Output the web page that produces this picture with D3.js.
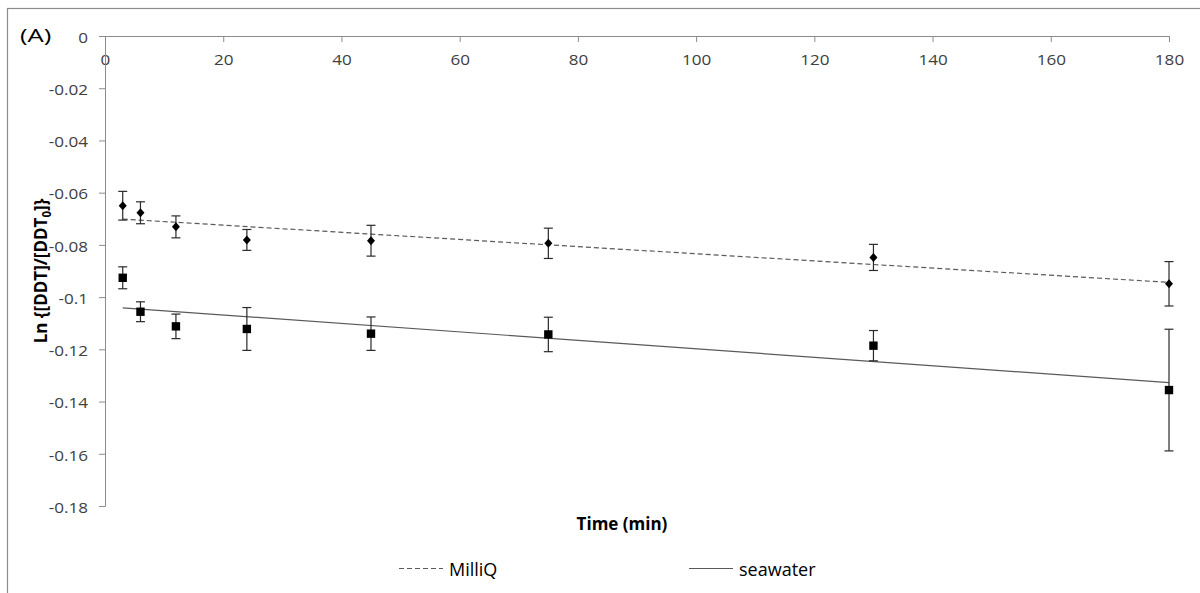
<!DOCTYPE html>
<html>
<head>
<meta charset="utf-8">
<script src="https://cdn.jsdelivr.net/npm/d3@7"></script>
<style>
  html, body { margin: 0; padding: 0; background: #fff; }
  svg { display: block; font-family: "Open Sans", "Lato", sans-serif; }
</style>
</head>
<body>
<svg id="chart" width="1200" height="593"></svg>
<script>
// ---- data ----
const times = [3, 6, 12, 24, 45, 75, 130, 180];
const milliqValues = [-0.0650, -0.0677, -0.0731, -0.0781, -0.0784, -0.0794, -0.0848, -0.0949];
const milliqErrors = [0.0055, 0.0042, 0.0042, 0.0040, 0.0059, 0.0058, 0.0050, 0.0085];
const seawaterValues = [-0.0926, -0.1056, -0.1112, -0.1122, -0.1140, -0.1143, -0.1186, -0.1356];
const seawaterErrors = [0.0042, 0.0038, 0.0047, 0.0082, 0.0064, 0.0066, 0.0058, 0.0233];
// linear trend lines: [slope, intercept], drawn over the measured time range
const milliqTrend = [-0.000137, -0.0697];
const seawaterTrend = [-0.000162, -0.1036];
const xTicks = [0, 20, 40, 60, 80, 100, 120, 140, 160, 180];
const yTicks = [0, -0.02, -0.04, -0.06, -0.08, -0.1, -0.12, -0.14, -0.16, -0.18];
const seriesNames = ["MilliQ", "seawater"];

(function () {
// ---- layout ----
const svg = d3.select("#chart");
const pL = 105, pR = 1169, pT = 36, pB = 506;
const x = d3.scaleLinear().domain([0, 180]).range([pL, pR]);
const y = d3.scaleLinear().domain([0, -0.18]).range([pT, pB]);
const axisColor = "#8c8c8c";
const textColor = "#404040";

// horizontally widen text around its own anchor x
function stretch(sel, sx) {
  sel.each(function () {
    const t = d3.select(this);
    const x0 = +(t.attr("x") || 0);
    t.attr("x", x0 / sx).attr("transform", `scale(${sx},1)`);
  });
}

// outer chart border (cut off at right and bottom as in the reference)
svg.append("rect")
  .attr("x", 7.5).attr("y", 8.5).attr("width", 1200).attr("height", 600)
  .attr("fill", "none").attr("stroke", axisColor).attr("stroke-width", 1.2);

const lab = svg.append("text").attr("x", 20).attr("y", 42)
  .attr("font-size", 19).attr("fill", "#000").text("(A)");
stretch(lab, 1.35);

// x axis at top (y = 0), ticks pointing down, labels below
const xAxis = d3.axisBottom(x).tickValues(xTicks).tickSize(6).tickPadding(13)
  .tickFormat(d3.format("d"));
const gx = svg.append("g").attr("transform", `translate(0,${y(0)})`).call(xAxis);
gx.select(".domain").attr("stroke", axisColor);
gx.selectAll(".tick line").attr("stroke", axisColor);
gx.selectAll(".tick text").attr("font-size", 14).attr("fill", textColor)
  .attr("font-family", "'Open Sans', sans-serif");
stretch(gx.selectAll(".tick text"), 1.22);

// y axis
const yAxis = d3.axisLeft(y).tickValues(yTicks).tickSize(6).tickPadding(11)
  .tickSizeOuter(6)
  .tickFormat(d => d === 0 ? "0" : String(+d.toFixed(2)));
const gy = svg.append("g").attr("transform", `translate(${pL},0)`).call(yAxis);
gy.select(".domain").attr("stroke", axisColor);
gy.selectAll(".tick line").attr("stroke", axisColor);
gy.selectAll(".tick text").attr("font-size", 14).attr("fill", textColor)
  .attr("font-family", "'Open Sans', sans-serif").attr("dy", "0.45em");
stretch(gy.selectAll(".tick text"), 1.22);

// axis titles
svg.append("text").attr("x", 622).attr("y", 530)
  .attr("text-anchor", "middle").attr("font-size", 17).attr("font-weight", "bold")
  .attr("fill", "#000").text("Time (min)");

const yl = svg.append("text")
  .attr("transform", `translate(47,271) rotate(-90)`)
  .attr("text-anchor", "middle").attr("font-size", 17).attr("font-weight", "bold")
  .attr("fill", "#000");
yl.append("tspan").text("Ln {[DDT]/[DDT");
yl.append("tspan").attr("font-size", 11.5).attr("dy", 4).text("0");
yl.append("tspan").attr("dy", -4).text("]}");

// trend lines
const tMin = d3.min(times), tMax = d3.max(times);
function trend(coef, dash) {
  svg.append("line")
    .attr("x1", x(tMin)).attr("y1", y(coef[0] * tMin + coef[1]))
    .attr("x2", x(tMax)).attr("y2", y(coef[0] * tMax + coef[1]))
    .attr("stroke", "#5a5a5a").attr("stroke-width", 1.2)
    .attr("stroke-dasharray", dash);
}
trend(milliqTrend, "5,3");
trend(seawaterTrend, null);

// error bars + markers
function series(vals, errs, shape) {
  const data = times.map((t, i) => ({ t, v: vals[i], e: errs[i] }));
  const g = svg.append("g");
  const eb = g.selectAll("g.eb").data(data).join("g").attr("class", "eb")
    .attr("stroke", "#2a2a2a").attr("stroke-width", 1.2);
  eb.append("line").attr("x1", d => x(d.t)).attr("x2", d => x(d.t))
    .attr("y1", d => y(d.v + d.e)).attr("y2", d => y(d.v - d.e));
  eb.append("line").attr("x1", d => x(d.t) - 4.5).attr("x2", d => x(d.t) + 4.5)
    .attr("y1", d => y(d.v + d.e)).attr("y2", d => y(d.v + d.e));
  eb.append("line").attr("x1", d => x(d.t) - 4.5).attr("x2", d => x(d.t) + 4.5)
    .attr("y1", d => y(d.v - d.e)).attr("y2", d => y(d.v - d.e));
  g.selectAll("path.m").data(data).join("path").attr("class", "m")
    .attr("transform", d => `translate(${x(d.t)},${y(d.v)})`)
    .attr("d", shape === "diamond" ? "M0,-4.5L4,0L0,4.5L-4,0Z" : "M-4.2,-4.2H4.2V4.2H-4.2Z")
    .attr("fill", "#000");
}
series(milliqValues, milliqErrors, "diamond");
series(seawaterValues, seawaterErrors, "square");

// legend
const legend = [
  { name: seriesNames[0], x1: 399, dash: "5,3" },
  { name: seriesNames[1], x1: 689, dash: null }
];
legend.forEach(l => {
  svg.append("line").attr("x1", l.x1).attr("x2", l.x1 + 44)
    .attr("y1", 568.5).attr("y2", 568.5)
    .attr("stroke", "#5a5a5a").attr("stroke-width", 1.2).attr("stroke-dasharray", l.dash);
  svg.append("text").attr("x", l.x1 + 50).attr("y", 575.5)
    .attr("font-size", 18).attr("fill", "#000").text(l.name);
});
})();
</script>
</body>
</html>
